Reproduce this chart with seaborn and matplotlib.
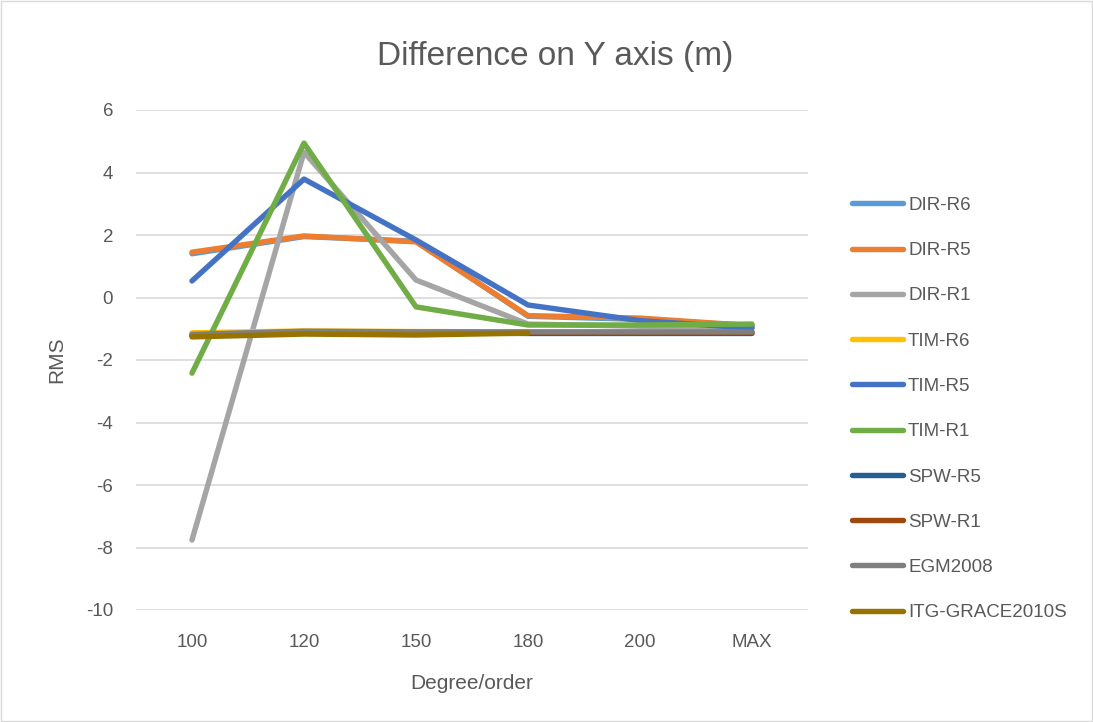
import numpy as np
import pandas as pd
import matplotlib
matplotlib.use("Agg")
import matplotlib.pyplot as plt
import seaborn as sns

# Degree/order categories on the x axis
categories = ["100", "120", "150", "180", "200", "MAX"]

# RMS of the Y-axis difference (m) for each model/solution
dir_r6 = [1.40, 1.95, 1.80, -0.60, -0.70, -0.90]
dir_r5 = [1.45, 1.97, 1.78, -0.58, -0.66, -0.90]
dir_r1 = [-7.76, 4.65, 0.56, -0.85, -0.92, -0.95]
tim_r6 = [-1.13, -1.07, -1.09, -1.10, None, None]
tim_r5 = [0.53, 3.79, 1.84, -0.24, -0.74, -0.98]
tim_r1 = [-2.42, 4.94, -0.30, -0.88, -0.88, -0.85]
spw_r5 = [-1.20, -1.12, -1.13, -1.15, -1.15, -1.15]
spw_r1 = [-1.22, -1.14, -1.15, -1.12, -1.12, -1.12]
egm2008 = [-1.18, -1.08, -1.10, -1.10, -1.10, -1.10]
itg_grace2010s = [-1.26, -1.17, -1.20, -1.14, None, None]

series = {
    "DIR-R6": dir_r6,
    "DIR-R5": dir_r5,
    "DIR-R1": dir_r1,
    "TIM-R6": tim_r6,
    "TIM-R5": tim_r5,
    "TIM-R1": tim_r1,
    "SPW-R5": spw_r5,
    "SPW-R1": spw_r1,
    "EGM2008": egm2008,
    "ITG-GRACE2010S": itg_grace2010s,
}

colors = ["#5B9BD5", "#ED7D31", "#A5A5A5", "#FFC000", "#4472C4",
          "#70AD47", "#255E91", "#9E480E", "#7F7F7F", "#997300"]

rows = []
for name, vals in series.items():
    for cat, v in zip(categories, vals):
        if v is not None:
            rows.append({"Degree/order": cat, "RMS": v, "model": name})
df = pd.DataFrame(rows)

sns.set_theme(style="white")
plt.rcParams["font.family"] = ["Liberation Sans", "DejaVu Sans"]
plt.rcParams["axes.unicode_minus"] = False
plt.rcParams["lines.solid_capstyle"] = "round"
plt.rcParams["lines.solid_joinstyle"] = "round"

text_col = "#595959"
lw = 3.9
fig = plt.figure(figsize=(10.93, 7.22), dpi=100)
ax = fig.add_axes([136 / 1093, 1 - 610 / 722, 672 / 1093, 500 / 722])

sns.lineplot(data=df, x="Degree/order", y="RMS", hue="model",
             hue_order=list(series.keys()), palette=colors,
             linewidth=lw, sort=False, ax=ax)

ax.set_xlim(-0.5, len(categories) - 0.5)
ax.set_ylim(-10, 6)
ax.set_yticks(np.arange(-10, 7, 2))
ax.yaxis.grid(True, color="#D9D9D9", linewidth=1.2)
ax.set_axisbelow(True)
for s in ax.spines.values():
    s.set_visible(False)
ax.tick_params(axis="both", length=0, labelsize=13.5, colors=text_col)
ax.tick_params(axis="x", pad=17)
ax.tick_params(axis="y", pad=16.5)
ax.set_xlabel("Degree/order", fontsize=15, color=text_col, labelpad=16.5)
ax.set_ylabel("RMS", fontsize=15, color=text_col, labelpad=14)
fig.text(0.5 + 9 / 1093, 1 - 57 / 722, "Difference on Y axis (m)", fontsize=24,
         color=text_col, ha="center", va="center")

sns.move_legend(ax, "upper left", bbox_to_anchor=(835 / 1093, 1 - 180 / 722),
                bbox_transform=fig.transFigure, frameon=False, title=None,
                fontsize=13.5, labelspacing=1.5, handlelength=2.75,
                handletextpad=0.25, labelcolor=text_col)
for h in ax.get_legend().legend_handles:
    h.set_linewidth(lw)

fig.patches.append(plt.Rectangle((0.001, 0.001), 0.998, 0.998, transform=fig.transFigure,
                                 fill=False, edgecolor="#D9D9D9", linewidth=1))
fig.savefig("out.png", dpi=100, facecolor="white")
